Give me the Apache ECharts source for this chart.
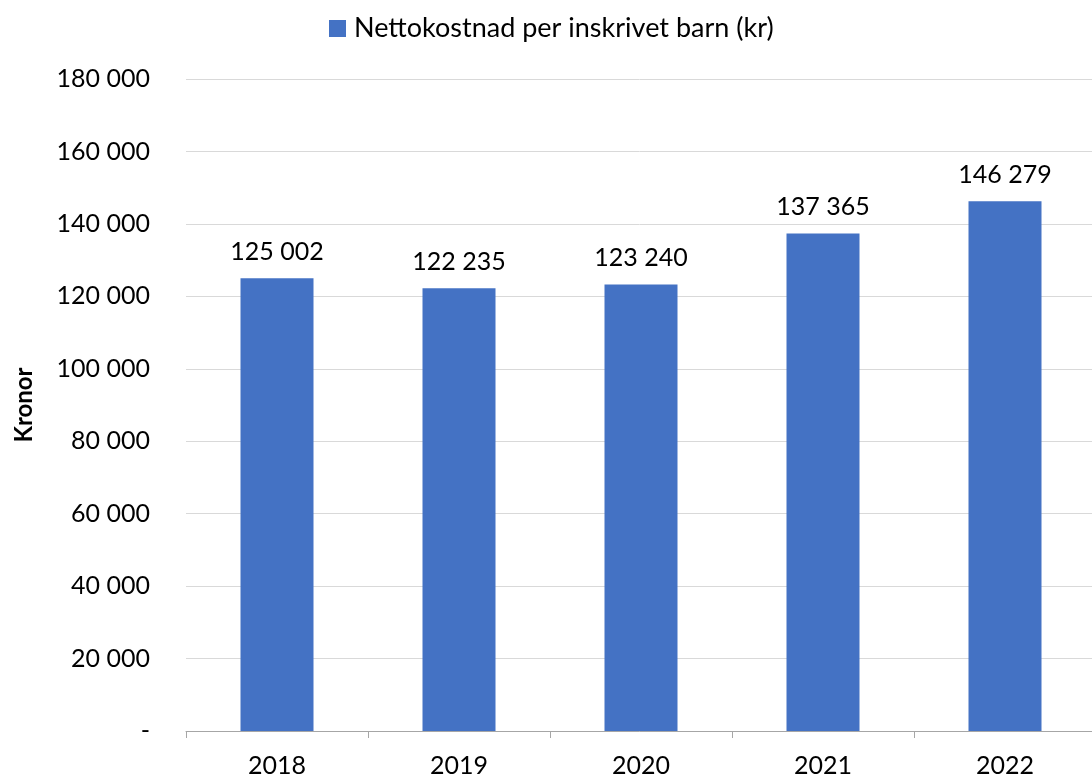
<!DOCTYPE html>
<html>
<head>
<meta charset="utf-8">
<script src="https://cdn.jsdelivr.net/npm/echarts@6/dist/echarts.min.js"></script>
<style>
html, body { margin: 0; padding: 0; background: #fff; }
#main { width: 1092px; height: 778px; }
</style>
</head>
<body>
<div id="main"></div>
<script>
// data
var years = ["2018", "2019", "2020", "2021", "2022"];
var nettokostnad = [125002, 122235, 123240, 137365, 146279];
var seriesName = "Nettokostnad per inskrivet barn (kr)";

var FONT = "Lato";

// 125002 -> "125 002", 0 -> "-"
function fmt(v) {
    if (v === 0) return "-";
    return String(v).replace(/\B(?=(\d{3})+(?!\d))/g, " ");
}

var chart = echarts.init(document.getElementById("main"));
chart.setOption({
    animation: false,
    textStyle: { fontFamily: FONT },
    legend: {
        top: 10,
        left: 324,
        itemWidth: 17,
        itemHeight: 17,
        itemGap: 8,
        icon: "rect",
        textStyle: { fontSize: 27, color: "#000", fontFamily: FONT, padding: [0, 0, 0, 3] },
        data: [seriesName]
    },
    grid: {
        left: 186,
        width: 910,
        top: 79,
        bottom: 47,
        containLabel: false,
        outerBoundsMode: "none"
    },
    xAxis: {
        type: "category",
        data: years,
        axisLine: { lineStyle: { color: "#a6a6a6", width: 1 } },
        axisTick: { show: true, length: 7, lineStyle: { color: "#a6a6a6" } },
        axisLabel: { fontSize: 25, color: "#000", margin: 22, fontFamily: FONT }
    },
    yAxis: {
        type: "value",
        min: 0,
        max: 180000,
        interval: 20000,
        name: "Kronor",
        nameLocation: "middle",
        nameGap: 150,
        nameTextStyle: { fontSize: 24, fontWeight: "bold", color: "#000", fontFamily: FONT },
        axisLine: { show: false },
        axisTick: { show: false },
        splitLine: { lineStyle: { color: "#d9d9d9", width: 1 } },
        axisLabel: {
            fontSize: 25,
            color: "#000",
            margin: 36,
            fontFamily: FONT,
            formatter: fmt
        }
    },
    series: [{
        name: seriesName,
        type: "bar",
        data: nettokostnad,
        barWidth: 73,
        itemStyle: { color: "#4472c4" },
        label: {
            show: true,
            position: "top",
            distance: 14,
            fontSize: 25,
            color: "#000",
            fontFamily: FONT,
            formatter: function (p) { return fmt(p.value); }
        }
    }]
});
</script>
</body>
</html>
